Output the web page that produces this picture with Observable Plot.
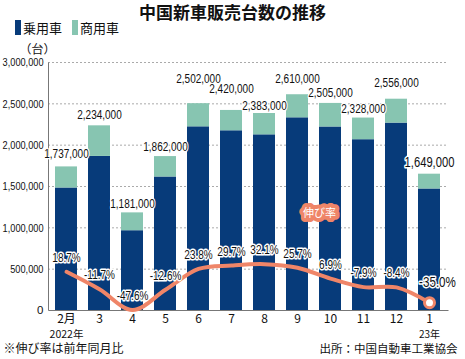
<!DOCTYPE html>
<html><head><meta charset="utf-8">
<script src="https://cdn.jsdelivr.net/npm/d3@7"></script>
<script src="https://cdn.jsdelivr.net/npm/@observablehq/plot@0.6"></script>
<style>
body{margin:0;background:#fff;width:465px;height:359px;overflow:hidden;font-family:"Noto Sans CJK JP",sans-serif;color:#111;}
#head{position:relative;height:38px;}
#title{position:absolute;left:0;width:465px;top:1px;text-align:center;font-weight:bold;font-size:17px;line-height:22px;}
.leg{position:absolute;top:20px;height:15px;font-size:13px;line-height:15px;display:flex;align-items:center;}
.sw{display:inline-block;width:6px;height:15px;margin-right:2px;}
#chart svg{display:block;}
</style></head>
<body>
<div id="head">
  <div id="title">中国新車販売台数の推移</div>
  <div class="leg" style="left:15px"><span class="sw" style="background:#073b7a"></span>乗用車</div>
  <div class="leg" style="left:72px"><span class="sw" style="background:#87c5b1"></span>商用車</div>
</div>
<div id="chart"></div>
<script>
// ---- data ----
const months = ["2月","3","4","5","6","7","8","9","10","11","12","1"];
const totals = [1737000,2234000,1181000,1862000,2502000,2420000,2383000,2610000,2505000,2328000,2556000,1649000];
const passenger = [1482000,1864000,965000,1615000,2222000,2174000,2125000,2331000,2220000,2066000,2267000,1470000];
const growth = [18.7,-11.7,-47.6,-12.6,23.8,29.7,32.1,25.7,6.9,-7.9,-8.4,-35.0];
const yTicks = [0,500000,1000000,1500000,2000000,2500000,3000000];
const yearLabels = [{m:"2月", t:"2022年"}, {m:"1", t:"23年"}];

// ---- layout / style ----
const navy = "#073b7a", teal = "#87c5b1", coral = "#ef8568";
const W = 465, H = 321, mT = 24, mB = 49, mL = 48, mR = 17;
const labelLift = [13,11,9,10,25,21,8,16,10,9,16,12]; // label placement nudges (px)
const fmt = d3.format(",");
// growth rate (%) drawn on the same frame through a secondary linear mapping
const gMap = d3.scaleLinear().domain([-48.6, 51.4]).range([0, 695000]);

const rows = months.map((m, i) => ({
  m, total: totals[i], pass: passenger[i], g: growth[i], gv: gMap(growth[i]), lift: labelLift[i]
}));
const last = rows[rows.length - 1];
const main = rows.slice(0, -1);

const font = "'Liberation Sans','Noto Sans CJK JP',sans-serif";
const fw = W - mL - mR, fh = H - mT - mB;
const halo = {stroke: "white", strokeWidth: 3, fill: "#111", paintOrder: "stroke"};

const chart = Plot.plot({
  width: W, height: H,
  marginTop: mT, marginBottom: mB, marginLeft: mL, marginRight: mR,
  style: {fontFamily: font, fontSize: "12px", color: "#111", background: "#fff", overflow: "visible"},
  x: {type: "band", domain: months, paddingInner: 0.32, paddingOuter: 0.165, axis: null},
  y: {domain: [0, 3000000], axis: null},
  marks: [
    Plot.ruleY(yTicks.slice(1), {stroke: "#aaa", strokeDasharray: "2,2", strokeWidth: 1}),
    Plot.barY(rows, {x: "m", y1: 0, y2: "pass", fill: navy}),
    Plot.barY(rows, {x: "m", y1: "pass", y2: "total", fill: teal}),
    Plot.frame({stroke: "#777", strokeWidth: 1, strokeDasharray: `0,${fw + fh},${fw + fh}`}),
    // y tick labels
    Plot.text(yTicks, {y: d => d, text: d => fmt(d), frameAnchor: "left", dx: -5, textAnchor: "end", fontSize: 11.5}),
    Plot.text(["（台）"], {frameAnchor: "top-left", dx: -11, dy: -17, textAnchor: "middle", fontSize: 12, fontFamily: "Noto Sans CJK JP"}),
    // x tick labels
    Plot.text(months, {x: d => d, frameAnchor: "bottom", dy: 12, fontSize: 12, fontFamily: "Noto Sans CJK JP"}),
    Plot.text(yearLabels.slice(0, 1), {x: "m", text: "t", frameAnchor: "bottom", dy: 27, fontSize: 10.5, fontFamily: "Noto Sans CJK JP"}),
    Plot.text(yearLabels.slice(1), {x: "m", text: "t", frameAnchor: "bottom", dy: 27, fontSize: 10, fontFamily: "Noto Sans CJK JP"}),
    // total labels (each nudged up by its own lift)
    ...main.map(r => Plot.text([r], {x: "m", y: "total", text: d => fmt(d.total), dy: -r.lift, fontSize: 12.5, ...halo, strokeWidth: 2.5})),
    Plot.text([last], {x: "m", y: "total", text: d => fmt(d.total), dy: -last.lift, fontSize: 14, ...halo}),
    // growth line
    Plot.line(rows, {x: "m", y: "gv", stroke: coral, strokeWidth: 4, curve: "catmull-rom"}),
    Plot.dot([last], {x: "m", y: "gv", r: 5, fill: "white", stroke: coral, strokeWidth: 3}),
    Plot.text(main, {x: "m", y: "gv", text: d => d.g.toFixed(1) + "%", dy: -14, fontSize: 12.5, ...halo}),
    Plot.text([last], {x: "m", y: "gv", text: d => d.g.toFixed(1) + "%", dx: 8, dy: -20, fontSize: 14.5, ...halo}),
    // tag for the line
    Plot.text(rows.filter(d => d.m === "10"), {x: "m", y: "gv", text: () => "伸び率", dx: -11, dy: -65,
      fontSize: 11, fontFamily: "Noto Sans CJK JP", fill: "white", stroke: coral, strokeWidth: 8,
      strokeLinejoin: "round", paintOrder: "stroke"}),
    // notes
    Plot.text(["※伸び率は前年同月比"], {frameAnchor: "bottom-left", dx: -45, dy: 42.5, textAnchor: "start",
      fontSize: 12, fontFamily: "Noto Sans CJK JP"}),
    Plot.text(["出所：中国自動車工業協会"], {frameAnchor: "bottom-right", dx: 9, dy: 42.5, textAnchor: "end",
      fontSize: 11.5, fontFamily: "Noto Sans CJK JP"})
  ]
});
document.getElementById("chart").append(chart);
// condensed look for the numeric labels (the reference uses a narrow face)
d3.select(chart).selectAll("text").each(function () {
  const s = this.textContent;
  if (/^[-0-9.,%]+$/.test(s) && s.length > 2) {
    const w = this.getComputedTextLength();
    this.setAttribute("textLength", (w * 0.8).toFixed(1));
    this.setAttribute("lengthAdjust", "spacingAndGlyphs");
  }
});
</script>
</body></html>
